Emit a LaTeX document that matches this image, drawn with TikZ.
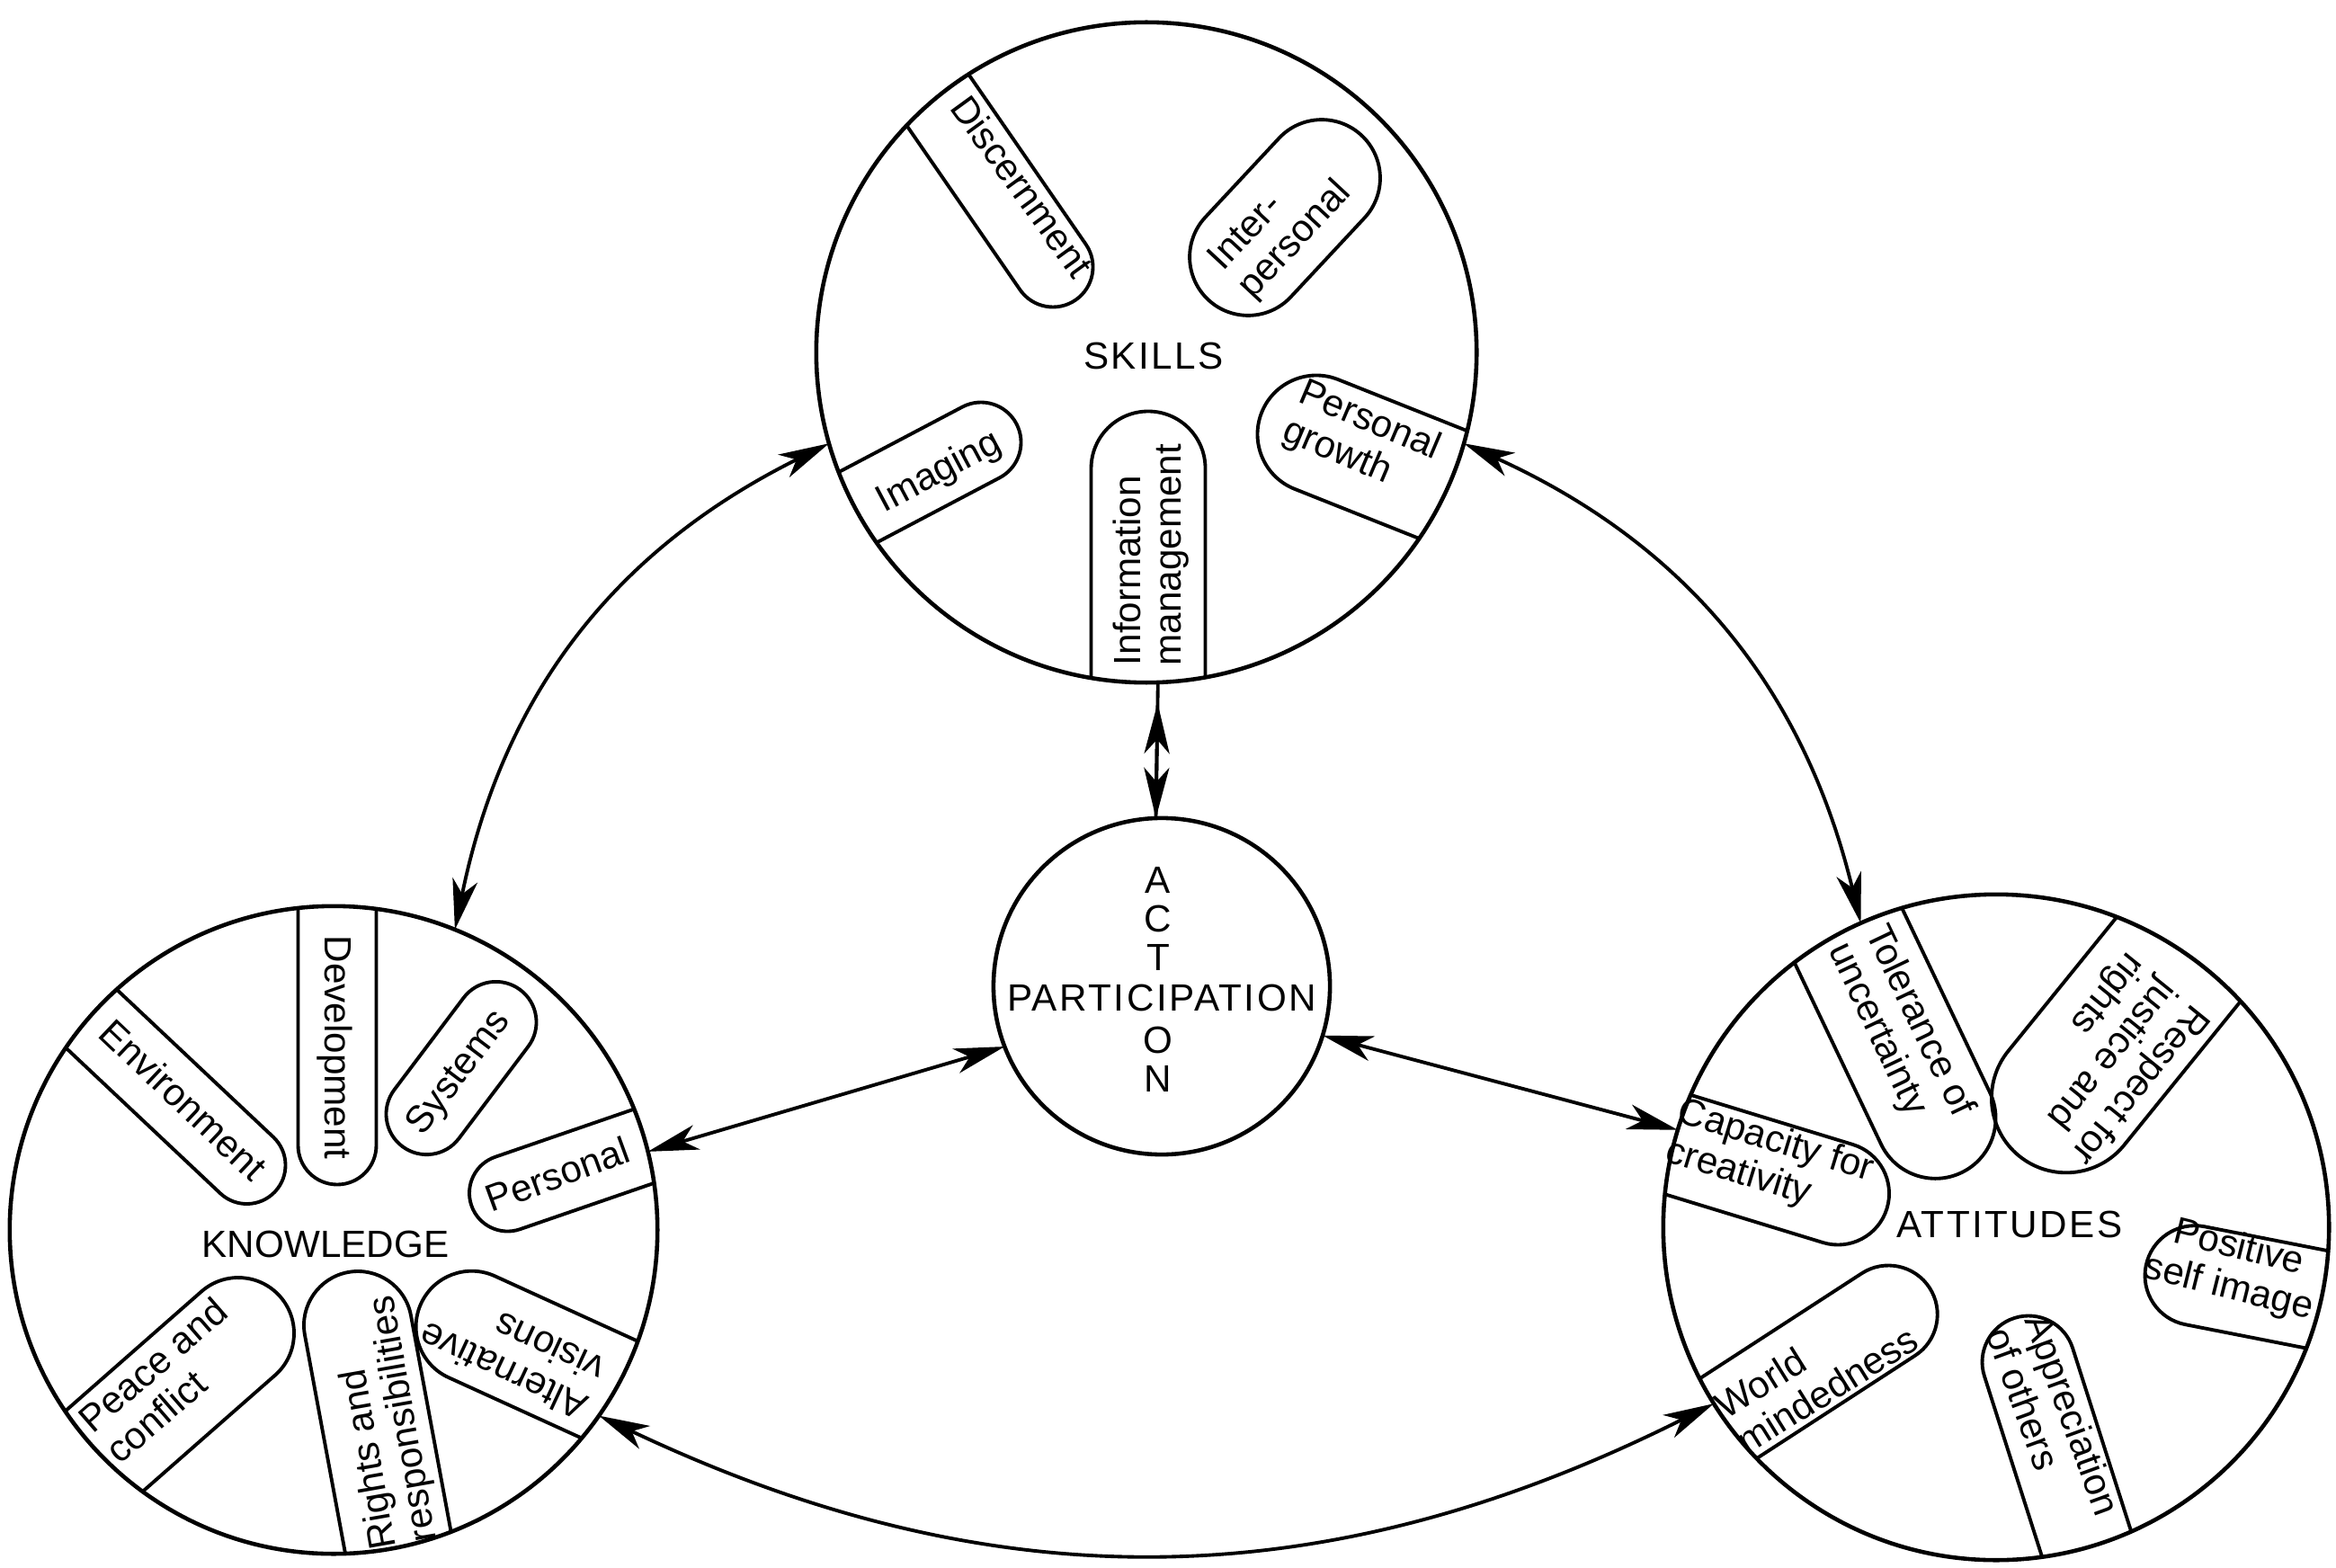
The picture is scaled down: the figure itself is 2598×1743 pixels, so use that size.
\documentclass[tikz,border=0pt]{standalone}
\usepackage{fontspec}
\setmainfont{Liberation Sans}
\newfontfamily\spacedfont[LetterSpace=6]{Liberation Sans}
\usetikzlibrary{arrows.meta}
\newcommand\pillO[4]{%
  \begin{scope}[shift={(#1,-#2)},rotate=#3]
    \draw[pill] (1000,-#4) -- (0,-#4) arc[start angle=-90,end angle=-270,radius=#4] -- (1000,#4);
  \end{scope}}
\newcommand\pillS[5]{%
  \begin{scope}[shift={(#1,-#2)},rotate=#3]
    \draw[pill] (#5,-#4) arc[start angle=-90,end angle=90,radius=#4] -- (-#5,#4) arc[start angle=90,end angle=270,radius=#4] -- cycle;
  \end{scope}}
\begin{document}
\begin{tikzpicture}[x=0.01cm,y=0.01cm,
  bigc/.style={draw, circle, line width=1.3pt, inner sep=0pt, outer sep=0pt},
  pill/.style={line width=1.1pt, line join=round},
  txt/.style={font=\fontsize{12}{13}\selectfont, inner sep=0pt, align=left},
  title/.style={font=\fontsize{12}{13}\selectfont, inner sep=0pt},
  stitle/.style={font=\spacedfont\fontsize{12}{13}\selectfont, inner sep=0pt},
  actl/.style={font=\spacedfont\fontsize{12}{12.2}\selectfont, inner sep=0pt, align=center},
  conn/.style={line width=1.1pt, {Stealth[length=16pt,width=8pt,inset=4.5pt]}-{Stealth[length=16pt,width=8pt,inset=4.5pt]}}
]
\path[use as bounding box] (0,0) rectangle (2598,-1743);

% circles
\node[bigc, minimum size=7.34cm] (skills) at (1275,-392) {};
\node[bigc, minimum size=7.2cm] (knowledge) at (371,-1368) {};
\node[bigc, minimum size=7.4cm] (attitudes) at (2220,-1365) {};
\node[bigc, minimum size=3.74cm] (action) at (1292,-1097) {};

% skills pills
\begin{scope}
  \clip (1275,-392) circle[radius=367];
  \pillO{1171}{297}{124.6}{44.5}
  \pillS{1429}{242}{47}{65}{60}
  \pillO{1464}{483}{-21.7}{65.5}
  \pillO{1277}{521}{-90}{63.5}
  \pillO{1091}{492}{207.8}{44.5}
\end{scope}
% knowledge pills
\begin{scope}
  \clip (371,-1368) circle[radius=360];
  \pillO{274.5}{1296}{136.7}{43}
  \pillO{375}{1274}{90}{43.5}
  \pillS{513}{1188}{53}{45}{64}
  \pillO{564.5}{1327}{19}{42.5}
  \pillO{524.6}{1475.7}{-24.5}{62}
  \pillO{398}{1474}{-79.5}{60}
  \pillO{265}{1483}{221.3}{62}
\end{scope}
% attitudes pills
\begin{scope}
  \clip (2220,-1365) circle[radius=370];
  \pillO{2152.5}{1243.8}{115.5}{67}
  \pillO{2297.9}{1221.3}{51}{83}
  \pillO{2044}{1327.5}{163}{57}
  \pillO{2441}{1418.7}{-11.1}{55.5}
  \pillO{2256}{1515}{-72.3}{51.5}
  \pillO{2100.2}{1462}{213}{54.5}
\end{scope}

% titles
\node[stitle] (skillslbl) at (1283,-396) {SKILLS};
\node[title] (knowlbl) at (362,-1384) {KNOWLEDGE};
\node[stitle] (attlbl) at (2235,-1362) {ATTITUDES};
\node[stitle] (part) at (1292,-1110) {PARTICIPATION};
\node[actl, anchor=south] (actup) at (1288,-1080) {A\\C\\T};
\node[actl, anchor=north] (actdn) at (1288,-1141) {O\\N};

% skills texts
\node[txt, rotate=-54] (tdisc) at (1137,-207) {Discernment};
\node[txt, rotate=47] (tinter) at (1425,-252) {Inter-\\personal};
\node[txt, rotate=-23] (tpgrow) at (1514,-490) {Personal\\growth};
\node[txt, rotate=90] (tinfo) at (1280,-617) {Information\\management};
\node[txt, rotate=28] (timag) at (1045,-526) {Imaging};
% knowledge texts
\node[txt, rotate=-43.5] (tenv) at (204,-1223) {Environment};
\node[txt, rotate=-90] (tdev) at (372,-1165) {Development};
\node[txt, rotate=53] (tsys) at (511,-1194) {Systems};
\node[txt, rotate=20] (tpers) at (620,-1306) {Personal};
\node[txt, rotate=155] (talt) at (569,-1505) {Alternative\\visions};
\node[txt, rotate=100] (trights) at (428,-1582) {Rights and\\responsibilities};
\node[txt, rotate=41] (tpeace) at (185,-1535) {Peace and\\conflict};
% attitudes texts
\node[txt, rotate=-64.5] (ttol) at (2113,-1146) {Tolerance of\\uncertainty};
\node[txt, rotate=-129] (tresp) at (2343,-1177) {Respect for\\justice and\\rights};
\node[txt, rotate=-17] (tcap) at (1968,-1292) {Capacity for\\creativity};
\node[txt, rotate=-14, align=center] (tpos) at (2484,-1411) {Positive\\self image};
\node[txt, rotate=-70] (tappr) at (2284,-1581) {Appreciation\\of others};
\node[txt, rotate=32] (tworld) at (2020,-1526) {World\\mindedness};

% connectors
\draw[conn] (skills.196.5) to[bend right=26] (knowledge.68.1);
\draw[conn] (skills.-16.7) to[bend left=26] (attitudes.114.4);
\draw[conn] (knowledge.-35.4) to[bend right=26] (attitudes.212);
\draw[conn] (action.201.3) -- (knowledge.14.3);
\draw[conn] (action.-17.7) -- (attitudes.163.97);
\draw[line width=1.1pt] (skills.-88.4) -- (action.92);
\draw[conn, shorten <=0.23cm] (skills.-88.4) -- (action.92);
\end{tikzpicture}
\end{document}
